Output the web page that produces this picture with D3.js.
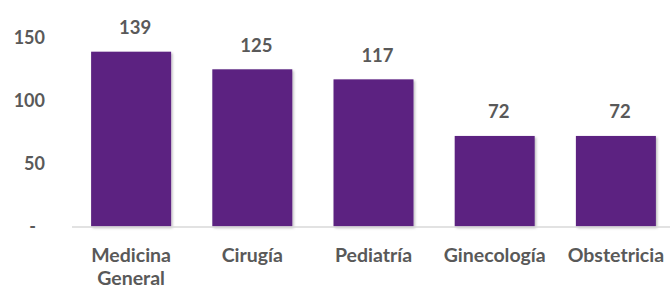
<!DOCTYPE html>
<html>
<head>
<meta charset="utf-8">
<script src="https://cdn.jsdelivr.net/npm/d3@7"></script>
<style>
    body { margin: 0; background: #fff; }
    text { font-family: Lato, "Open Sans", sans-serif; font-weight: bold; fill: #595959; }
</style>
</head>
<body>
<script>
// Chart data
const categories = ["Medicina General", "Cirugía", "Pediatría", "Ginecología", "Obstetricia"];
const values = [139, 125, 117, 72, 72];
const yTicks = [0, 50, 100, 150];
const yTickLabels = ["-", "50", "100", "150"];

// Set chart dimensions
const width = 670;
const height = 289;
const margin = { top: 38, right: 0, bottom: 62, left: 70 };
const baseline = 226.5;

const svg = d3.select("body")
    .append("svg")
    .attr("width", width)
    .attr("height", height);

// Soft shadow under the bars
const filter = svg.append("defs").append("filter")
    .attr("id", "shadow")
    .attr("x", "-10%").attr("y", "-10%")
    .attr("width", "130%").attr("height", "130%");
filter.append("feDropShadow")
    .attr("dx", 1.5).attr("dy", 1.5)
    .attr("stdDeviation", 1.2)
    .attr("flood-color", "#000")
    .attr("flood-opacity", 0.25);

// Scales
const xScale = d3.scaleBand()
    .domain(categories)
    .range([margin.left + 0.5, margin.left + 606.5])
    .paddingInner(0.34)
    .paddingOuter(0.17);

const yScale = d3.scaleLinear()
    .domain([0, 150])
    .range([baseline, baseline - 150 * 1.2576]);

// Bars
svg.append("g")
    .selectAll("rect")
    .data(values)
    .join("rect")
    .attr("x", (d, i) => xScale(categories[i]))
    .attr("y", d => yScale(d))
    .attr("width", xScale.bandwidth())
    .attr("height", d => baseline - yScale(d))
    .attr("fill", "#5B2281")
    .attr("filter", "url(#shadow)");

// Baseline
svg.append("line")
    .attr("x1", 72)
    .attr("x2", width)
    .attr("y1", baseline + 0.5)
    .attr("y2", baseline + 0.5)
    .attr("stroke", "#D9D9D9")
    .attr("stroke-width", 1.5);

// Y axis labels only
const leftAxis = d3.axisLeft(yScale)
    .tickValues(yTicks)
    .tickFormat((d, i) => yTickLabels[i])
    .tickSize(0)
    .tickPadding(0);

const yAxis = svg.append("g")
    .attr("transform", "translate(45, 0)")
    .call(leftAxis);
yAxis.select(".domain").remove();
yAxis.selectAll("text")
    .attr("font-size", 18)
    .attr("font-family", null)
    .attr("dy", 6)
    .attr("dx", (d, i) => i === 0 ? -9 : 0);

// Value labels
svg.append("g")
    .selectAll("text")
    .data(values)
    .join("text")
    .attr("x", (d, i) => xScale(categories[i]) + xScale.bandwidth() / 2 + 4)
    .attr("y", d => yScale(d) - 17.7)
    .attr("text-anchor", "middle")
    .attr("font-size", 18.5)
    .text(d => d);

// Category labels (wrapped on spaces)
const catLabels = svg.append("g")
    .selectAll("text")
    .data(categories)
    .join("text")
    .attr("x", d => xScale(d) + xScale.bandwidth() / 2)
    .attr("y", 261.7)
    .attr("text-anchor", "middle")
    .attr("font-size", 19.5);

catLabels.each(function(d) {
    const words = d.split(" ");
    const el = d3.select(this);
    const x = xScale(d) + xScale.bandwidth() / 2;
    words.forEach((w, i) => {
        el.append("tspan")
            .attr("x", x)
            .attr("dy", i === 0 ? 0 : 23)
            .text(w);
    });
});
</script>
</body>
</html>
